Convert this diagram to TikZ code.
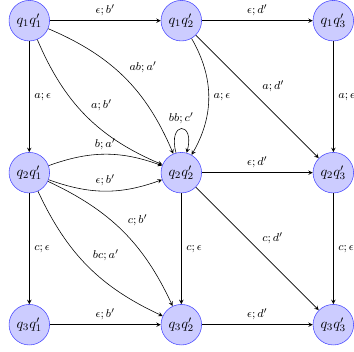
\documentclass[tikz,border=0pt]{standalone}
\begin{document}
\begin{tikzpicture}[>=stealth,
    state/.style={circle, draw=blue!70, fill=blue!20, minimum size=1cm, inner sep=0pt},
    lbl/.style={auto, font=\footnotesize}]
\useasboundingbox (-0.723,0.51) rectangle (8.01,-8.15);
\node[state] (q11) at (0,0) {$q_1q_1'$};
\node[state] (q12) at (3.75,0) {$q_1q_2'$};
\node[state] (q13) at (7.5,0) {$q_1q_3'$};
\node[state] (q21) at (0,-3.75) {$q_2q_1'$};
\node[state] (q22) at (3.75,-3.75) {$q_2q_2'$};
\node[state] (q23) at (7.5,-3.75) {$q_2q_3'$};
\node[state] (q31) at (0,-7.5) {$q_3q_1'$};
\node[state] (q32) at (3.75,-7.5) {$q_3q_2'$};
\node[state] (q33) at (7.5,-7.5) {$q_3q_3'$};
\draw[->] (q11) -- node[lbl] {$\epsilon; b'$} (q12);
\draw[->] (q12) -- node[lbl] {$\epsilon; d'$} (q13);
\draw[->] (q11) -- node[lbl] {$a; \epsilon$} (q21);
\draw[->] (q13) -- node[lbl] {$a; \epsilon$} (q23);
\draw[->] (q11) to[bend left=22] node[lbl] {$ab; a'$} (q22);
\draw[->] (q11) to[bend right=22] node[lbl] {$a; b'$} (q22);
\draw[->] (q12) to[bend left=30] node[lbl] {$a; \epsilon$} (q22);
\draw[->] (q12) -- node[lbl] {$a; d'$} (q23);
\draw[->] (q22) to[loop above] node[lbl] {$bb; c'$} (q22);
\draw[->] (q21) to[bend left=20] node[lbl] {$b; a'$} (q22);
\draw[->] (q21) to[bend right=20] node[lbl] {$\epsilon; b'$} (q22);
\draw[->] (q22) -- node[lbl] {$\epsilon; d'$} (q23);
\draw[->] (q21) -- node[lbl] {$c; \epsilon$} (q31);
\draw[->] (q21) to[bend left=20] node[lbl] {$c; b'$} (q32);
\draw[->] (q21) to[bend right=20] node[lbl] {$bc; a'$} (q32);
\draw[->] (q22) -- node[lbl] {$c; \epsilon$} (q32);
\draw[->] (q22) -- node[lbl] {$c; d'$} (q33);
\draw[->] (q23) -- node[lbl] {$c; \epsilon$} (q33);
\draw[->] (q31) -- node[lbl] {$\epsilon; b'$} (q32);
\draw[->] (q32) -- node[lbl] {$\epsilon; d'$} (q33);
\end{tikzpicture}
\end{document}
